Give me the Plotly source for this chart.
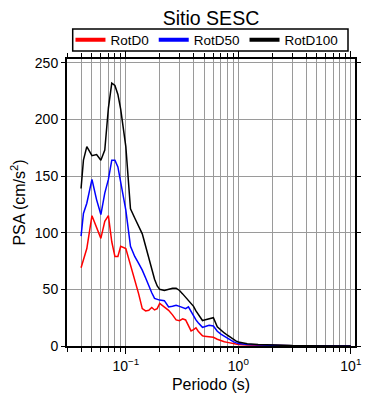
import numpy as np
import plotly.graph_objects as go

periods = [0.04, 0.042, 0.045, 0.05, 0.055, 0.06, 0.065, 0.07, 0.075, 0.08, 0.085, 0.09,
           0.1, 0.11, 0.12, 0.13, 0.14, 0.15, 0.16, 0.17, 0.18, 0.19, 0.2, 0.22, 0.24,
           0.26, 0.28, 0.3, 0.32, 0.34, 0.36, 0.38, 0.4, 0.42, 0.44, 0.46, 0.48, 0.5,
           0.55, 0.6, 0.65, 0.7, 0.75, 0.8, 0.85, 0.9, 0.95, 1.0, 1.2, 1.5, 2.0, 3.0,
           4.0, 5.0, 7.5, 10.0]

rotd100 = [139, 164, 176, 168, 169, 164, 173, 210, 232, 230, 222, 209,
           176, 121, 113, 106, 99, 88, 77, 67, 59, 53, 50, 49, 50,
           51, 51, 49, 46, 43, 40, 37, 35, 31, 28, 25, 22.5, 23,
           24, 25, 17, 14, 11.5, 9.5, 7.5, 5.5, 4.5, 3.5, 2.0, 1.3, 0.8, 0.4,
           0.3, 0.2, 0.1, 0.1]

rotd50 = [97, 117, 126, 147, 129, 116, 135, 147, 164, 164, 158, 144,
          120, 88, 79, 73, 67, 60, 53, 47, 42, 41, 40.5, 40, 34.5,
          35, 36, 35, 34, 33, 34.5, 30, 26, 23, 20.5, 18.5, 16.5, 17,
          18.3, 17.7, 13, 10.5, 8.5, 6.5, 5, 3.8, 3, 2.3, 1.4, 0.9, 0.6, 0.3,
          0.2, 0.15, 0.1, 0.05]

rotd0 = [69, 76, 86, 115, 105, 95, 110, 115, 92, 79, 79, 88,
         86, 72, 59, 46, 33, 31, 31.5, 34, 31.8, 33, 37.5, 34, 31.5,
         27.5, 23, 22.4, 24, 23, 18, 13.3, 14.5, 16, 13, 10.5, 9, 8.5,
         8.1, 7.7, 6, 4.7, 3.8, 3.2, 2.6, 2.0, 1.6, 1.3, 0.8, 0.5, 0.3, 0.2,
         0.1, 0.1, 0.05, 0.05]

series_names = ["RotD0", "RotD50", "RotD100"]
series_colors = ["#ff0000", "#0000ff", "#000000"]
series_values = [rotd0, rotd50, rotd100]

x_tickvals = [0.1, 1, 10]
x_ticktext = ["10<sup>−1</sup>", "10<sup>0</sup>", "10<sup>1</sup>"]
x_minor = [m * d for d in [0.01, 0.1, 1] for m in range(2, 10)] + [20]
y_tickvals = [0, 50, 100, 150, 200, 250]

FONT = "Liberation Sans, Arial, Helvetica, sans-serif"

# the page body has an 8px margin, so the figure is drawn 8px in and 8px down
OFF = 8
W, H = 390 - OFF, 400 - OFF
PLOT_TOP, PLOT_BOTTOM = 59, 346


def paper_y(screen_y):
    return (PLOT_BOTTOM - screen_y) / (PLOT_BOTTOM - PLOT_TOP)


fig = go.Figure()
for name, color, vals in zip(series_names, series_colors, series_values):
    fig.add_trace(go.Scatter(x=periods, y=vals, mode="lines", name=name,
                             line=dict(color=color, width=1.5), showlegend=False))
for name, color in zip(series_names, series_colors):
    fig.add_trace(go.Scatter(x=[None], y=[None], mode="lines", name=name,
                             line=dict(color=color, width=4), showlegend=True))

grid = "#9a9a9a"
fig.update_layout(
    width=W, height=H,
    margin=dict(l=67 - OFF, r=35, t=59 - OFF, b=54, autoexpand=False),
    paper_bgcolor="white", plot_bgcolor="white",
    font=dict(family=FONT, color="black", size=14),
    title=dict(text="Sitio SESC", x=0.5, xref="paper", xanchor="center",
               y=1 - 10 / H, yref="container", yanchor="middle",
               font=dict(size=19.5, family=FONT, color="black")),
    legend=dict(orientation="h", x=0.486, xanchor="center", xref="paper",
                y=paper_y(40), yanchor="middle", yref="paper",
                bgcolor="rgba(0,0,0,0)", borderwidth=0,
                font=dict(size=13.5, family=FONT, color="black"),
                itemwidth=30, tracegroupgap=0),
    showlegend=True,
    shapes=[dict(type="rect", xref="paper", yref="paper",
                 x0=(72.7 - 67) / 288, x1=(348 - 67) / 288,
                 y0=paper_y(51), y1=paper_y(29),
                 line=dict(color="black", width=1.5), fillcolor="rgba(0,0,0,0)",
                 layer="above")],
)
fig.update_xaxes(
    type="log", range=[np.log10(0.03), 1.037],
    tickmode="array", tickvals=x_tickvals, ticktext=x_ticktext,
    ticks="outside", ticklen=6, tickwidth=1, tickcolor="black",
    showline=True, linewidth=2, linecolor="black", mirror="ticks",
    showgrid=True, gridcolor=grid, gridwidth=1,
    minor=dict(tickmode="array", tickvals=x_minor, ticks="outside", ticklen=4,
               tickcolor="black", showgrid=True, gridcolor=grid, gridwidth=1),
    tickfont=dict(size=14, family=FONT, color="black"),
    title=dict(text="Periodo (s)", font=dict(size=16, family=FONT, color="black"),
               standoff=6),
    zeroline=False, automargin=False,
)
fig.update_yaxes(
    range=[0, 253.3],
    tickmode="array", tickvals=y_tickvals,
    ticks="outside", ticklen=4, tickwidth=1, tickcolor="black",
    showline=True, linewidth=2, linecolor="black", mirror="ticks",
    showgrid=True, gridcolor=grid, gridwidth=1,
    tickfont=dict(size=14, family=FONT, color="black"),
    title=dict(text="PSA (cm/s<sup>2</sup>)", font=dict(size=16, family=FONT, color="black"),
               standoff=6),
    zeroline=False, automargin=False,
)

fig.write_html("out.html")
